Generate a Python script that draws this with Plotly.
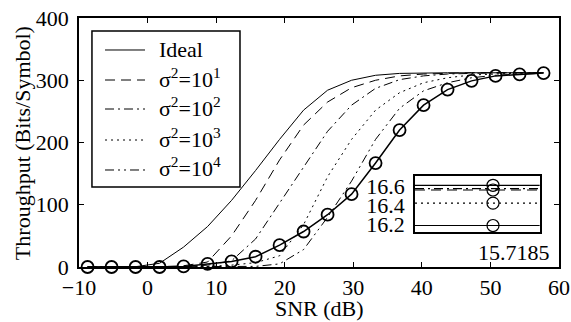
import plotly.graph_objects as go

snr = [-8.75, -5.25, -1.75, 1.75, 5.25, 8.75, 12.25, 15.75, 19.25, 22.75,
       26.25, 29.75, 33.25, 36.75, 40.25, 43.75, 47.25, 50.75, 54.25, 57.75]

ideal = [0, 0, 0.5, 6, 32, 65, 107, 155, 205, 252, 284, 300, 308, 311, 312, 312, 312, 312, 312, 312]
sig1 = [0, 0, 0, 0.5, 2, 8, 50, 107, 172, 228, 265, 288, 300, 307, 310, 311.5, 312, 312, 312, 312]
sig2 = [0, 0, 0, 0, 0.5, 3, 10, 45, 103, 162, 218, 260, 287, 301, 307, 310, 311.5, 312, 312, 312]
sig3 = [0, 0, 0, 0, 0, 1, 3, 7, 18, 68, 145, 205, 252, 280, 296, 304, 308.5, 310.5, 311.5, 312]
sig4 = [0, 0, 0, 0, 0, 0, 0.5, 1, 5, 28, 80, 138, 205, 255, 283, 296, 304, 308, 310, 311]
marked = [0, 0, 0, 0, 1, 5, 9, 16.5, 35, 57, 84, 117, 167, 220, 260, 285, 299, 307, 309.5, 311.5]

names = ["Ideal", "σ<sup>2</sup>=10<sup>1</sup>", "σ<sup>2</sup>=10<sup>2</sup>",
         "σ<sup>2</sup>=10<sup>3</sup>", "σ<sup>2</sup>=10<sup>4</sup>"]
series = [ideal, sig1, sig2, sig3, sig4]
dashes = ["solid", "10px,6px", "9px,4px,2px,4px", "2px,4px", "9px,4px,2px,4px,2px,4px"]

x_ticks = [-10, 0, 10, 20, 30, 40, 50, 60]
y_ticks = [0, 100, 200, 300, 400]

# inset (zoomed view)
inset_x = [49.0, 51.8]
inset_mark_x = 50.75
inset_levels = [16.615, 16.565, 16.58, 16.425, 16.187]
inset_dashes = ["solid", "10px,6px", "9px,4px,2px,4px", "2px,4px", "solid"]
inset_ticks = [16.2, 16.4, 16.6]
inset_label = "15.7185"

FONT = "Liberation Serif, Times New Roman, serif"
FS = 22

fig = go.Figure()
for i, (nm, ys, d) in enumerate(zip(names, series, dashes)):
    fig.add_trace(go.Scatter(x=snr, y=ys, mode="lines", name=nm, showlegend=False,
                             line=dict(color="black", width=1, dash=d)))
fig.add_trace(go.Scatter(x=snr, y=marked, mode="lines+markers", showlegend=False,
                         line=dict(color="black", width=1.5),
                         marker=dict(symbol="circle-open", size=12, color="black",
                                     line=dict(width=1.8, color="black")),
                         cliponaxis=False))

for lv, d in zip(inset_levels, inset_dashes):
    fig.add_trace(go.Scatter(x=inset_x, y=[lv, lv], mode="lines", showlegend=False,
                             line=dict(color="black", width=1.2, dash=d),
                             xaxis="x2", yaxis="y2"))
fig.add_trace(go.Scatter(x=[inset_mark_x] * 4,
                         y=[inset_levels[0], inset_levels[1], inset_levels[3], inset_levels[4]],
                         mode="markers", showlegend=False,
                         marker=dict(symbol="circle-open", size=12, color="black",
                                     line=dict(width=1.2, color="black")),
                         xaxis="x2", yaxis="y2"))

# manual legend (box, sample lines, labels)
leg_x0, leg_x1, leg_y0, leg_y1 = 0.027, 0.3354, 0.3213, 0.9478
leg_rows = [0.8715, 0.751, 0.6345, 0.51, 0.3896]
shapes = [dict(type="rect", xref="paper", yref="paper", x0=leg_x0, x1=leg_x1,
               y0=leg_y0, y1=leg_y1, line=dict(color="black", width=1.5),
               fillcolor="white", layer="above")]
annotations = []
for yy, nm, d in zip(leg_rows, names, dashes):
    shapes.append(dict(type="line", xref="paper", yref="paper", x0=0.0542, x1=0.1375,
                       y0=yy, y1=yy, line=dict(color="black", width=1, dash=d),
                       layer="above"))
    annotations.append(dict(text=nm, xref="paper", yref="paper", x=0.1625,
                            y=yy + (0.0 if nm == "Ideal" else 0.01),
                            xanchor="left", yanchor="middle", showarrow=False,
                            font=dict(family=FONT, size=FS, color="black")))
annotations.append(dict(text=inset_label, xref="paper", yref="paper", x=0.985, y=0.06,
                        xanchor="right", yanchor="middle", showarrow=False,
                        font=dict(family=FONT, size=FS, color="black")))
annotations.append(dict(text="Throughput (Bits/Symbol)", xref="paper", yref="paper",
                        x=-0.119, y=0.497, xanchor="center", yanchor="middle",
                        textangle=-90, showarrow=False,
                        font=dict(family=FONT, size=FS, color="black")))
annotations.append(dict(text="SNR (dB)", xref="paper", yref="paper",
                        x=0.5, y=-0.168, xanchor="center", yanchor="middle",
                        showarrow=False,
                        font=dict(family=FONT, size=FS, color="black")))

axcommon = dict(showgrid=False, zeroline=False, showline=True, linecolor="black",
                linewidth=1.5, mirror="ticks", ticks="inside", ticklen=5,
                tickcolor="black", tickwidth=1, automargin=False,
                tickfont=dict(family=FONT, size=FS, color="black"))

fig.update_layout(
    width=571, height=322,
    margin=dict(l=79, r=12, t=18, b=55),
    paper_bgcolor="white", plot_bgcolor="white",
    font=dict(family=FONT, size=FS, color="black"),
    showlegend=False,
    xaxis=dict(range=[-10, 60], tickvals=x_ticks, ticklabelstandoff=0, **axcommon),
    yaxis=dict(range=[0, 400], tickvals=y_ticks, ticklabelstandoff=4, **axcommon),
    xaxis2=dict(domain=[0.70, 0.96], anchor="y2", range=inset_x, showgrid=False,
                zeroline=False, showline=True, linecolor="black", linewidth=1.5,
                mirror=True, ticks="", showticklabels=False, automargin=False),
    yaxis2=dict(domain=[0.1406, 0.3655], anchor="x2", range=[16.118, 16.714],
                tickvals=inset_ticks, ticktext=["16.2", "16.4", "16.6"],
                showgrid=False, zeroline=False, showline=True, linecolor="black",
                linewidth=1.5, mirror=True, ticks="", automargin=False,
                ticklabelstandoff=4,
                tickfont=dict(family=FONT, size=FS, color="black")),
    shapes=shapes,
    annotations=annotations,
)

fig.write_html("out.html")
